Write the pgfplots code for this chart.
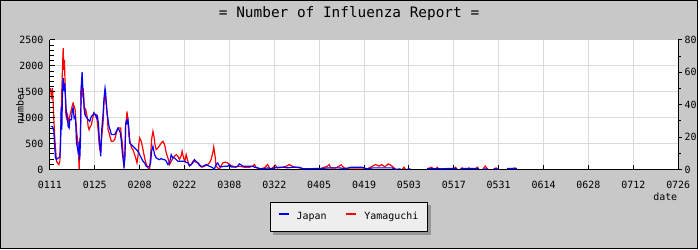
\documentclass[border=0pt]{standalone}
\usepackage{fontspec}
\setmainfont{DejaVu Sans Mono}
\usepackage{pgfplots}
\usepackage{pgfplotstable}
\pgfplotsset{compat=1.18}
\usetikzlibrary{backgrounds}
\definecolor{bggray}{RGB}{200,200,200}
\definecolor{gridgray}{RGB}{218,218,218}
\definecolor{legfill}{RGB}{238,238,238}
\definecolor{shadowgray}{RGB}{150,150,150}

\pgfplotstableread{
d v
0.21 833
0.83 833
1.24 737
1.45 481
1.76 224
2.07 192
2.59 224
3.11 237
3.32 481
3.53 1218
3.73 769
3.94 1506
4.15 1763
4.46 1506
4.67 1667
4.87 1410
5.19 1026
5.50 994
5.70 833
6.01 801
6.22 962
6.74 962
6.95 1122
7.26 1186
7.57 994
7.88 1026
8.09 865
8.30 513
8.61 417
8.92 288
9.13 545
9.33 192
9.54 577
9.75 1570
10.06 1878
10.27 1570
10.47 1474
10.68 1186
10.89 1090
11.20 1026
11.61 994
11.93 962
12.44 929
12.96 1026
13.48 1058
13.79 1090
14.21 1058
14.52 994
14.83 1026
15.14 897
15.35 673
15.56 481
15.87 256
16.18 769
16.59 1058
16.90 1378
17.21 1570
17.42 1474
17.63 1250
17.84 1090
18.15 962
18.46 833
18.77 769
19.19 673
20.22 673
20.74 737
21.26 801
21.57 769
21.99 705
22.30 545
22.61 321
22.81 224
23.13 64
23.44 256
23.64 865
23.85 929
24.06 897
24.37 962
24.68 769
24.89 513
25.41 481
26.44 417
27.48 353
28.00 288
28.52 224
29.04 160
29.56 128
30.07 64
30.59 51
31.11 64
31.42 128
31.73 353
32.15 449
32.67 288
33.18 224
33.70 205
34.22 192
34.74 212
35.26 192
35.78 192
36.30 160
36.81 96
37.33 128
37.85 288
38.37 224
38.89 224
39.41 192
39.93 160
40.44 160
41.48 160
42.00 160
42.52 141
43.04 128
43.55 77
44.07 96
44.59 128
45.11 192
45.63 160
46.15 128
46.67 77
47.18 64
47.70 64
48.22 77
48.74 96
49.26 77
49.78 64
50.30 51
50.81 32
51.33 13
51.85 96
52.37 128
52.89 64
53.41 51
54.44 64
55.48 64
56.00 96
56.52 51
57.04 51
58.07 51
58.59 64
59.11 109
59.6 96
60.1 64
61.7 64
63.3 64
63.8 45
64.8 32
65.9 13
66.9 19
67.9 32
69.0 13
70.0 32
71.6 45
73.1 45
74.1 32
75.7 45
77.8 45
78.8 19
80.9 13
82.4 19
84.0 19
85.6 26
87.1 32
88.1 32
90.2 32
92.3 19
93.8 45
95.4 45
97.4 45
99.0 13
100.6 32
102.7 32
104.7 32
106.8 32
108.0 0
108.4 nan
108.5 13
109.4 13
110.0 nan
111.5 13
112.5 13
113.0 nan
117.7 19
120.0 19
122.0 13
124.0 19
127.0 19
127.5 nan
128.1 19
131.0 19
133.8 19
134.5 nan
135.1 13
136.7 13
137.5 nan
138.4 13
140.0 13
141.0 nan
142.6 19
145.7 19
}\japandata

\pgfplotstableread{
d v
0.21 50.2
0.52 43.5
0.83 50.2
1.04 41.0
1.24 30.8
1.56 18.5
1.76 13.3
2.07 5.1
2.39 4.1
2.80 3.1
3.11 5.1
3.32 18.5
3.53 32.8
3.73 49.2
3.94 62.6
4.15 74.9
4.36 61.5
4.56 67.7
4.77 49.2
4.98 34.9
5.19 31.8
5.50 33.8
5.81 29.7
6.01 30.8
6.43 34.9
6.74 36.9
7.05 40.0
7.26 41.0
7.57 39.0
7.88 36.9
8.09 30.8
8.30 24.6
8.61 18.5
8.92 11.3
9.13 0
9.33 18.5
9.54 20.5
9.75 50.2
9.96 52.3
10.16 47.2
10.37 50.2
10.58 43.1
10.89 34.9
11.20 36.9
11.61 32.8
11.93 26.7
12.24 24.6
12.65 26.7
12.96 27.7
13.27 30.8
13.69 34.9
14.00 33.8
14.52 33.8
14.83 28.7
15.14 22.6
15.35 16.4
15.56 12.3
15.87 11.3
16.18 20.5
16.59 28.7
16.90 42.0
17.21 47.2
17.42 43.1
17.63 40.0
17.94 32.8
18.15 24.6
18.46 22.6
18.87 19.5
19.19 17.4
19.70 17.4
20.22 18.5
20.74 22.6
21.26 25.6
21.78 25.6
22.09 25.6
22.30 20.5
22.61 16.4
22.81 10.3
23.13 1.0
23.44 13.3
23.64 27.7
23.85 30.8
24.06 35.9
24.37 28.7
24.68 20.5
24.89 18.5
25.20 15.4
25.51 13.3
25.93 12.3
26.44 9.2
26.76 7.2
27.17 4.1
27.48 8.2
27.79 16.4
28.00 19.5
28.52 17.4
29.04 12.3
29.56 7.2
30.07 3.1
30.59 1.0
31.11 0.4
31.42 8.2
31.73 18.5
32.15 23.6
32.46 20.5
32.78 15.4
33.18 12.3
33.70 13.3
34.22 14.8
34.74 16.4
35.26 17.4
35.78 15.4
36.30 10.3
36.81 7.2
37.33 3.1
37.85 5.1
38.37 7.2
38.89 8.2
39.41 9.2
39.93 8.2
40.44 6.2
40.96 8.6
41.27 11.3
41.69 7.2
42.10 5.1
42.52 9.2
43.04 5.1
43.55 2.1
44.07 3.1
44.59 5.1
45.11 5.1
45.63 4.5
46.15 4.1
46.67 3.1
47.18 1.6
47.70 1.6
48.22 2.1
48.74 2.5
49.26 3.1
49.78 4.1
50.30 6.2
50.81 10.3
51.12 13.9
51.54 8.2
51.85 2.1
52.37 1.0
52.89 0.4
53.41 2.1
53.93 4.1
54.44 4.5
54.96 4.5
55.48 4.1
56.00 3.1
56.52 2.5
57.04 2.1
58.07 1.6
59.11 2.1
60.7 1.4
62.2 1.4
63.3 2.1
63.8 3.1
64.3 1.4
65.3 0.4
66.9 1.0
67.9 3.1
68.7 0.4
69.5 1.0
70.3 2.7
71.0 1.0
72.6 1.4
73.8 2.1
74.7 3.1
75.5 2.1
76.7 1.4
77.8 1.0
79.3 0.4
80.9 0.4
82.9 0.4
84.5 0.6
86.6 2.1
87.1 3.1
87.6 1.0
89.2 1.0
90.2 2.1
90.9 2.9
91.8 1.0
93.3 0.4
95.4 0.4
97.4 0.4
99.0 0.4
100.6 2.1
101.6 3.1
102.7 2.1
103.5 3.1
104.5 1.6
105.5 3.5
106.5 2.5
107.7 0.4
108.4 0
108.8 nan
109.9 0.2
110.4 1.4
110.9 0.2
111.5 nan
117.7 0.4
119.1 1.4
119.6 0.4
120.4 0.4
120.8 1.4
121.3 0.4
126.0 0.4
126.5 1.4
127.0 0.4
127.5 nan
128.1 0.4
128.6 1.0
129.1 0.4
130.3 0.4
130.7 1.0
131.2 0.4
132.8 0.4
133.3 1.4
133.8 0.4
134.5 nan
135.1 0.4
135.8 2.1
136.5 0.4
137.0 nan
138.5 0.4
139.2 1.0
139.9 0.4
141.0 nan
142.6 0.4
144.0 0.4
145.0 1.0
145.6 0.4
}\yamadata

\begin{document}
\begin{tikzpicture}
\begin{scope}[on background layer]
\fill[bggray] (0,0) rectangle (700bp,250bp);
\end{scope}
\draw[black, line width=1bp] (0.5bp,0.5bp) rectangle (699.5bp,249.5bp);

\pgfplotsset{
  commonax/.style={
    at={(50bp,80bp)}, anchor=south west, scale only axis,
    width=630bp, height=130bp,
    xmin=0, xmax=196,
    xtick={0,14,...,196},
    axis line style={black, line width=1bp, -},
    tick style={black, line width=1bp},
    tick label style={font=\fontsize{10}{12}\selectfont, black},
    /pgf/number format/assume math mode=true,
    unbounded coords=jump,
    clip=true,
  }
}

% Yamaguchi on the right axis (drawn first, so Japan is on top)
\begin{axis}[commonax,
  ymin=0, ymax=80,
  axis x line*=bottom, axis y line*=right,
  axis background/.style={fill=white},
  tick align=outside,
  x tick style={draw=none},
  xticklabels={0111,0125,0208,0222,0308,0322,0405,0419,0503,0517,0531,0614,0628,0712,0726},
  xticklabel style={yshift=-4bp},
  xmajorgrids,
  ytick={0,20,40,60,80}, yticklabels={0,20,40,60,80},
  minor ytick={10,30,50,70},
  major tick length=4bp, minor tick length=2.5bp,
  extra y ticks={16,32,48,64}, extra y tick labels={},
  extra y tick style={ymajorgrids=true, major tick length=0pt},
  grid style={draw=gridgray, line width=1bp},
  yticklabel style={xshift=-1bp},
]
\addplot[red, line width=1.2bp] table[x=d, y=v] {\yamadata};
\end{axis}

% Japan on the left axis
\begin{axis}[commonax,
  ymin=0, ymax=2500,
  axis x line*=bottom, axis y line*=left,
  tick align=inside,
  xticklabels={},
  ytick={0,500,1000,1500,2000,2500},
  yticklabels={0,500,1000,1500,2000,2500},
  minor ytick={100,200,300,400,600,700,800,900,1100,1200,1300,1400,1600,1700,1800,1900,2100,2200,2300,2400},
  major tick length=5bp, minor tick length=4bp,
  yticklabel style={xshift=-3bp},
  legend style={name=leg, at={(0.476,-0.365)}, anchor=center, draw=black, line width=1bp,
    fill=legfill, font=\fontsize{10}{12}\selectfont,
    inner xsep=7bp, inner ysep=8bp,
    /tikz/every odd column/.append style={column sep=5bp},
    /tikz/every even column/.append style={column sep=17bp}},
  legend columns=2,
  legend image code/.code={\draw[#1, line width=2bp] (0bp,3bp) -- (10bp,3bp);},
]
\addplot[blue, line width=1.2bp] table[x=d, y=v] {\japandata};
\addlegendentry{Japan}
\addlegendimage{red, line width=1.2bp}
\addlegendentry{Yamaguchi}
\end{axis}

\begin{scope}[on background layer]
\fill[shadowgray] ([xshift=3bp,yshift=-3bp]leg.south west) rectangle ([xshift=3bp,yshift=-3bp]leg.north east);
\end{scope}

\node[font=\fontsize{14.5}{16}\selectfont] at (350bp,236bp) {= Number of Influenza Report =};
\node[rotate=90, font=\fontsize{10}{12}\selectfont] at (20bp,143bp) {number};
\node[font=\fontsize{10}{12}\selectfont] at (667bp,53bp) {date};
\end{tikzpicture}
\end{document}
